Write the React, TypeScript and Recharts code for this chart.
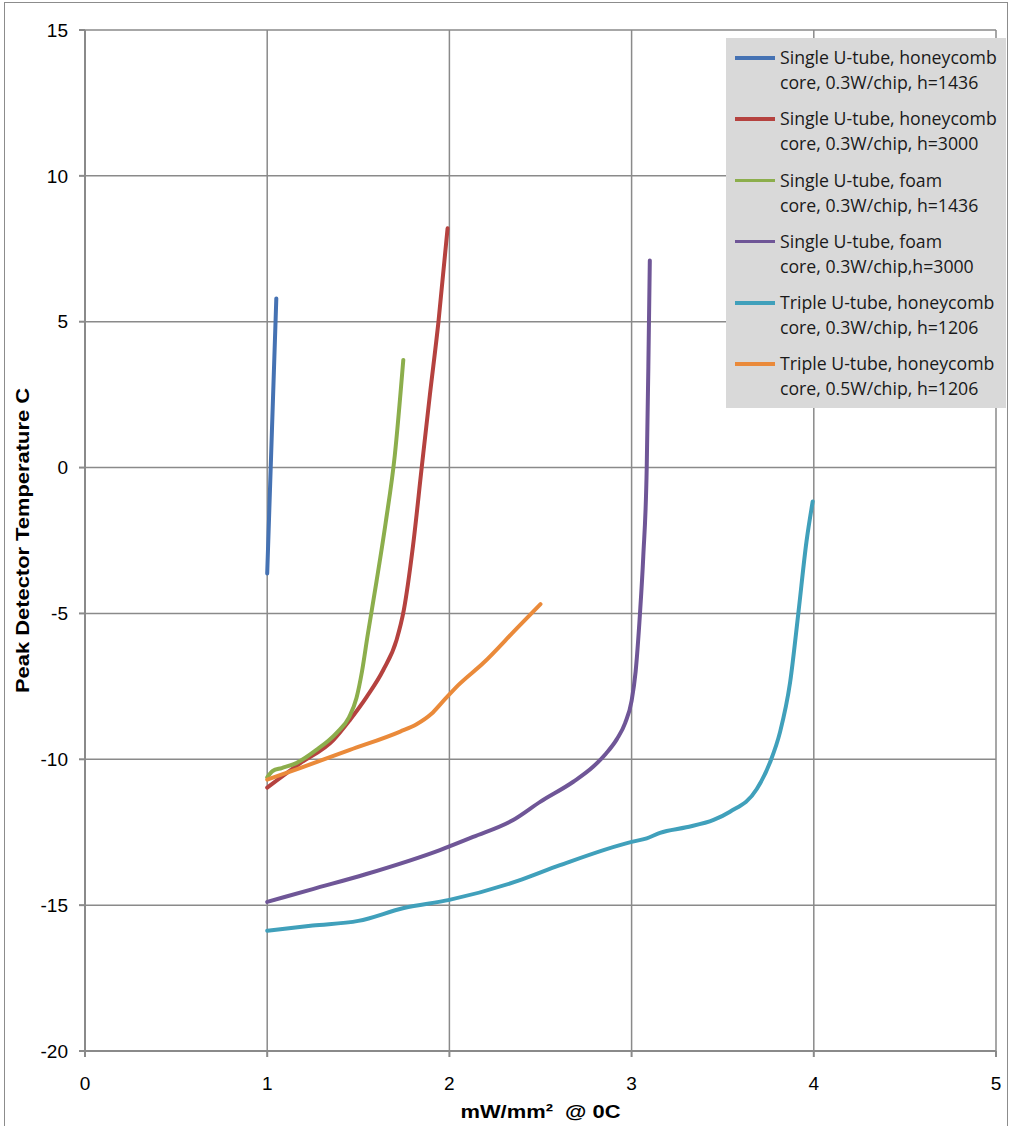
import React from 'react';
import {
  LineChart,
  Line,
  XAxis,
  YAxis,
  CartesianGrid,
  Label,
} from 'recharts';

type Pt = [number, number];

// values, [mW/mm2, peak temp C]
const singleHoneycomb1436: Pt[] = [
  [1, -3.63],
  [1.05, 5.8],
];

const singleHoneycomb3000: Pt[] = [
  [1, -10.97], [1.18, -10.14], [1.363, -9.34], [1.454, -8.65], [1.546, -7.86],
  [1.637, -6.94], [1.71, -5.91], [1.75, -4.88], [1.8, -2.7], [1.848, 0],
  [1.893, 2.5], [1.94, 5], [1.99, 8.2],
];

const singleFoam1436: Pt[] = [
  [1, -10.62], [1.03, -10.4], [1.08, -10.3], [1.16, -10.13], [1.27, -9.68],
  [1.38, -9.1], [1.45, -8.55], [1.49, -7.9], [1.52, -7.0], [1.55, -5.8],
  [1.6, -3.9], [1.65, -1.9], [1.7, 0.4], [1.747, 3.69],
];

const singleFoam3000: Pt[] = [
  [1, -14.89], [1.25, -14.45], [1.54, -13.94], [1.948, -13.11], [2.13, -12.66],
  [2.35, -12.08], [2.5, -11.45], [2.68, -10.77], [2.79, -10.25], [2.86, -9.8],
  [2.92, -9.3], [2.965, -8.75], [3.0, -8.0], [3.022, -7.0], [3.046, -5],
  [3.064, -3.05], [3.083, 0], [3.092, 3.47], [3.1, 7.1],
];

const tripleHoneycomb03: Pt[] = [
  [1, -15.88], [1.25, -15.7], [1.5, -15.54], [1.75, -15.1], [2, -14.82],
  [2.375, -14.17], [2.607, -13.63], [3, -12.83], [3.083, -12.71], [3.156, -12.52],
  [3.3, -12.33], [3.45, -12.08], [3.54, -11.8], [3.687, -11.02], [3.76, -10.1],
  [3.815, -9.06], [3.87, -7.36], [3.915, -5], [3.96, -2.53], [3.994, -1.16],
];

const tripleHoneycomb05: Pt[] = [
  [1, -10.7], [1.18, -10.3], [1.454, -9.68], [1.73, -9.05], [1.82, -8.8],
  [1.9, -8.45], [1.967, -8.0], [2.05, -7.45], [2.186, -6.7], [2.37, -5.51],
  [2.5, -4.68],
];

const xTicks = [0, 1, 2, 3, 4, 5];
const yTicks = [-20, -15, -10, -5, 0, 5, 10, 15];

const series = [
  { name: ['Single U-tube, honeycomb', 'core, 0.3W/chip, h=1436'], color: '#4572b3', points: singleHoneycomb1436 },
  { name: ['Single U-tube, honeycomb', 'core, 0.3W/chip, h=3000'], color: '#b5423f', points: singleHoneycomb3000 },
  { name: ['Single U-tube, foam', 'core, 0.3W/chip, h=1436'], color: '#8cae4c', points: singleFoam1436 },
  { name: ['Single U-tube, foam', 'core, 0.3W/chip,h=3000'], color: '#6f5697', points: singleFoam3000 },
  { name: ['Triple U-tube, honeycomb', 'core, 0.3W/chip, h=1206'], color: '#40a0bb', points: tripleHoneycomb03 },
  { name: ['Triple U-tube, honeycomb', 'core, 0.5W/chip, h=1206'], color: '#ea8a3a', points: tripleHoneycomb05 },
];

const GRID = '#8a8a8a';
const FONT = '"Liberation Sans", Arial, sans-serif';
const tickStyle = { fontSize: 19, fill: '#000', fontFamily: FONT };
const titleStyle = { fontSize: 19, fontWeight: 'bold' as const, fill: '#000', fontFamily: FONT };

export default function App() {
  return (
    <div style={{ position: 'absolute', left: 0, top: 0, width: 1011, height: 1126, background: '#fff', overflow: 'hidden' }}>
      <div style={{ position: 'absolute', left: 4, top: 2, width: 1002, height: 1140, border: '1px solid #8c8c8c' }} />
      <LineChart width={1011} height={1126} margin={{ top: 30, right: 15, left: 0, bottom: 0 }}>
        <CartesianGrid stroke={GRID} strokeWidth={1.5} />
        <XAxis
          type="number"
          dataKey="x"
          domain={[0, 5]}
          ticks={xTicks}
          allowDataOverflow
          height={75}
          stroke={GRID}
          strokeWidth={2}
          tickSize={6}
          tickMargin={20}
          tick={tickStyle}
        >
          <Label
            content={(props: any) => {
              const vb = props.viewBox || { x: 85, y: 1051, width: 911, height: 75 };
              const cx = vb.x + vb.width / 2;
              const by = vb.y + 67;
              return (
                <text x={cx} y={by} textAnchor="middle" textLength={160} lengthAdjust="spacingAndGlyphs" style={titleStyle}>
                  {'mW/mm\u00b2 \u00a0@ 0C'}
                </text>
              );
            }}
          />
        </XAxis>
        <YAxis
          type="number"
          domain={[-20, 15]}
          ticks={yTicks}
          allowDataOverflow
          width={85}
          stroke={GRID}
          strokeWidth={2}
          tickSize={6}
          tickMargin={11}
          tick={tickStyle}
        >
          <Label
            content={(props: any) => {
              const vb = props.viewBox || { x: 0, y: 30, width: 85, height: 1021 };
              const cx = vb.x + 22;
              const cy = vb.y + vb.height / 2;
              return (
                <text
                  x={cx}
                  y={cy}
                  transform={`rotate(-90 ${cx} ${cy})`}
                  textAnchor="middle"
                  dominantBaseline="central"
                  textLength={305}
                  lengthAdjust="spacingAndGlyphs"
                  style={titleStyle}
                >
                  Peak Detector Temperature C
                </text>
              );
            }}
          />
        </YAxis>
        {series.map((s, i) => (
          <Line
            key={i}
            data={s.points.map(([x, y]) => ({ x, y }))}
            dataKey="y"
            type="monotone"
            stroke={s.color}
            strokeWidth={4}
            strokeLinecap="round"
            dot={false}
            activeDot={false}
            isAnimationActive={false}
          />
        ))}
      </LineChart>
      <div
        style={{
          position: 'absolute',
          left: 726,
          top: 38,
          width: 280,
          height: 370,
          boxSizing: 'border-box',
          background: '#d9d9d9',
          padding: '7px 0 0 0',
          fontFamily: '"Open Sans", sans-serif',
          fontSize: 17.7,
          color: '#1a1a1a',
        }}
      >
        {series.map((s, i) => (
          <div key={i} style={{ display: 'flex', alignItems: 'flex-start', height: 61.3 }}>
            <div style={{ width: 40, height: 3.5, background: s.color, marginLeft: 9, marginTop: 11, marginRight: 5, flexShrink: 0 }} />
            <div style={{ lineHeight: '25px', whiteSpace: 'nowrap' }}>
              <div>{s.name[0]}</div>
              <div>{s.name[1]}</div>
            </div>
          </div>
        ))}
      </div>
    </div>
  );
}
